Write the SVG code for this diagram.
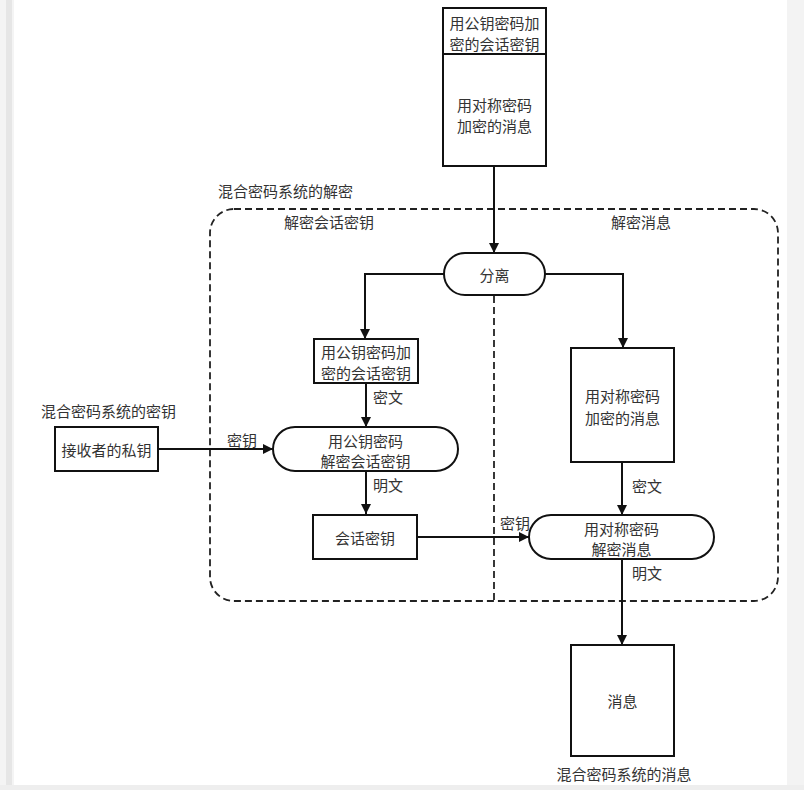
<svg xmlns="http://www.w3.org/2000/svg" width="804" height="790" viewBox="0 0 804 790">
<style>
  text { font-family: "Noto Sans CJK SC", "Noto Sans", sans-serif; font-size: 15px; fill: #333; text-anchor: middle; dominant-baseline: central; }
  .box { fill: #fff; stroke: #111; stroke-width: 2; }
  .conn { fill: none; stroke: #111; stroke-width: 2; }
  .dash { fill: none; stroke: #222; stroke-width: 1.8; stroke-dasharray: 7 4; }
  .lbl { text-anchor: start; }
</style>
<defs>
  <marker id="arr" viewBox="0 0 10 10" refX="10" refY="5" markerWidth="10" markerHeight="10" markerUnits="userSpaceOnUse" orient="auto">
    <path d="M0,0 L10,5 L0,10 Z" fill="#111"/>
  </marker>
</defs>
<rect x="0" y="0" width="804" height="790" fill="#ffffff"/>
<rect x="0" y="0" width="14" height="790" fill="#f4f4f4"/>
<rect x="6" y="0" width="6" height="790" fill="#e6e6e6"/>
<rect x="787" y="0" width="17" height="790" fill="#f3f3f3"/>
<rect x="0" y="785" width="804" height="5" fill="#eeeeee"/>

<g id="container">
  <text class="lbl" x="218" y="190">混合密码系统的解密</text>
  <rect class="dash" x="210" y="209" width="568" height="392" rx="24" ry="24"/>
  <line class="dash" x1="494" y1="296" x2="494" y2="601"/>
  <text x="329" y="221">解密会话密钥</text>
  <text x="641" y="221">解密消息</text>
</g>

<g id="connectors">
  <path class="conn" d="M494,166 L494,253" marker-end="url(#arr)"/>
  <path class="conn" d="M444,274 L365,274 L365,339" marker-end="url(#arr)"/>
  <path class="conn" d="M545,274 L623,274 L623,348" marker-end="url(#arr)"/>
  <path class="conn" d="M366,383 L366,427" marker-end="url(#arr)"/>
  <text class="lbl" x="373" y="396">密文</text>
  <path class="conn" d="M158,449 L273,449" marker-end="url(#arr)"/>
  <text class="lbl" x="227" y="439">密钥</text>
  <path class="conn" d="M366,471 L366,514" marker-end="url(#arr)"/>
  <text class="lbl" x="373" y="484">明文</text>
  <path class="conn" d="M622,462 L622,515" marker-end="url(#arr)"/>
  <text class="lbl" x="632" y="485">密文</text>
  <path class="conn" d="M417,537 L529,537" marker-end="url(#arr)"/>
  <text class="lbl" x="500" y="522">密钥</text>
  <path class="conn" d="M622,559 L622,645" marker-end="url(#arr)"/>
  <text class="lbl" x="632" y="572">明文</text>
</g>

<g id="input">
  <rect class="box" x="443" y="8" width="103" height="158"/>
  <line class="conn" x1="443" y1="54" x2="546" y2="54"/>
  <text x="494.5" y="22">用公钥密码加</text>
  <text x="494.5" y="43">密的会话密钥</text>
  <text x="494.5" y="104">用对称密码</text>
  <text x="494.5" y="125">加密的消息</text>
</g>

<g id="split">
  <rect class="box" x="444" y="253" width="101" height="42" rx="21" ry="21"/>
  <text x="494.5" y="274">分离</text>
</g>

<g id="enc-session-key">
  <rect class="box" x="314" y="339" width="104" height="44"/>
  <text x="366" y="351">用公钥密码加</text>
  <text x="366" y="372">密的会话密钥</text>
</g>

<g id="enc-message">
  <rect class="box" x="571" y="348" width="103" height="114"/>
  <text x="622.5" y="395">用对称密码</text>
  <text x="622.5" y="417">加密的消息</text>
</g>

<g id="private-key">
  <text class="lbl" x="41" y="410">混合密码系统的密钥</text>
  <rect class="box" x="55" y="427" width="103" height="44"/>
  <text x="106.5" y="449">接收者的私钥</text>
</g>

<g id="decrypt-session-key">
  <rect class="box" x="273" y="427" width="185" height="44" rx="22" ry="22"/>
  <text x="365.5" y="440">用公钥密码</text>
  <text x="365.5" y="460">解密会话密钥</text>
</g>

<g id="session-key">
  <rect class="box" x="313" y="515" width="104" height="44"/>
  <text x="365" y="537">会话密钥</text>
</g>

<g id="decrypt-message">
  <rect class="box" x="529" y="515" width="185" height="44" rx="22" ry="22"/>
  <text x="621.5" y="528">用对称密码</text>
  <text x="621.5" y="548">解密消息</text>
</g>

<g id="message">
  <rect class="box" x="571" y="645" width="103" height="111"/>
  <text x="622.5" y="700">消息</text>
  <text x="624" y="773">混合密码系统的消息</text>
</g>
</svg>
